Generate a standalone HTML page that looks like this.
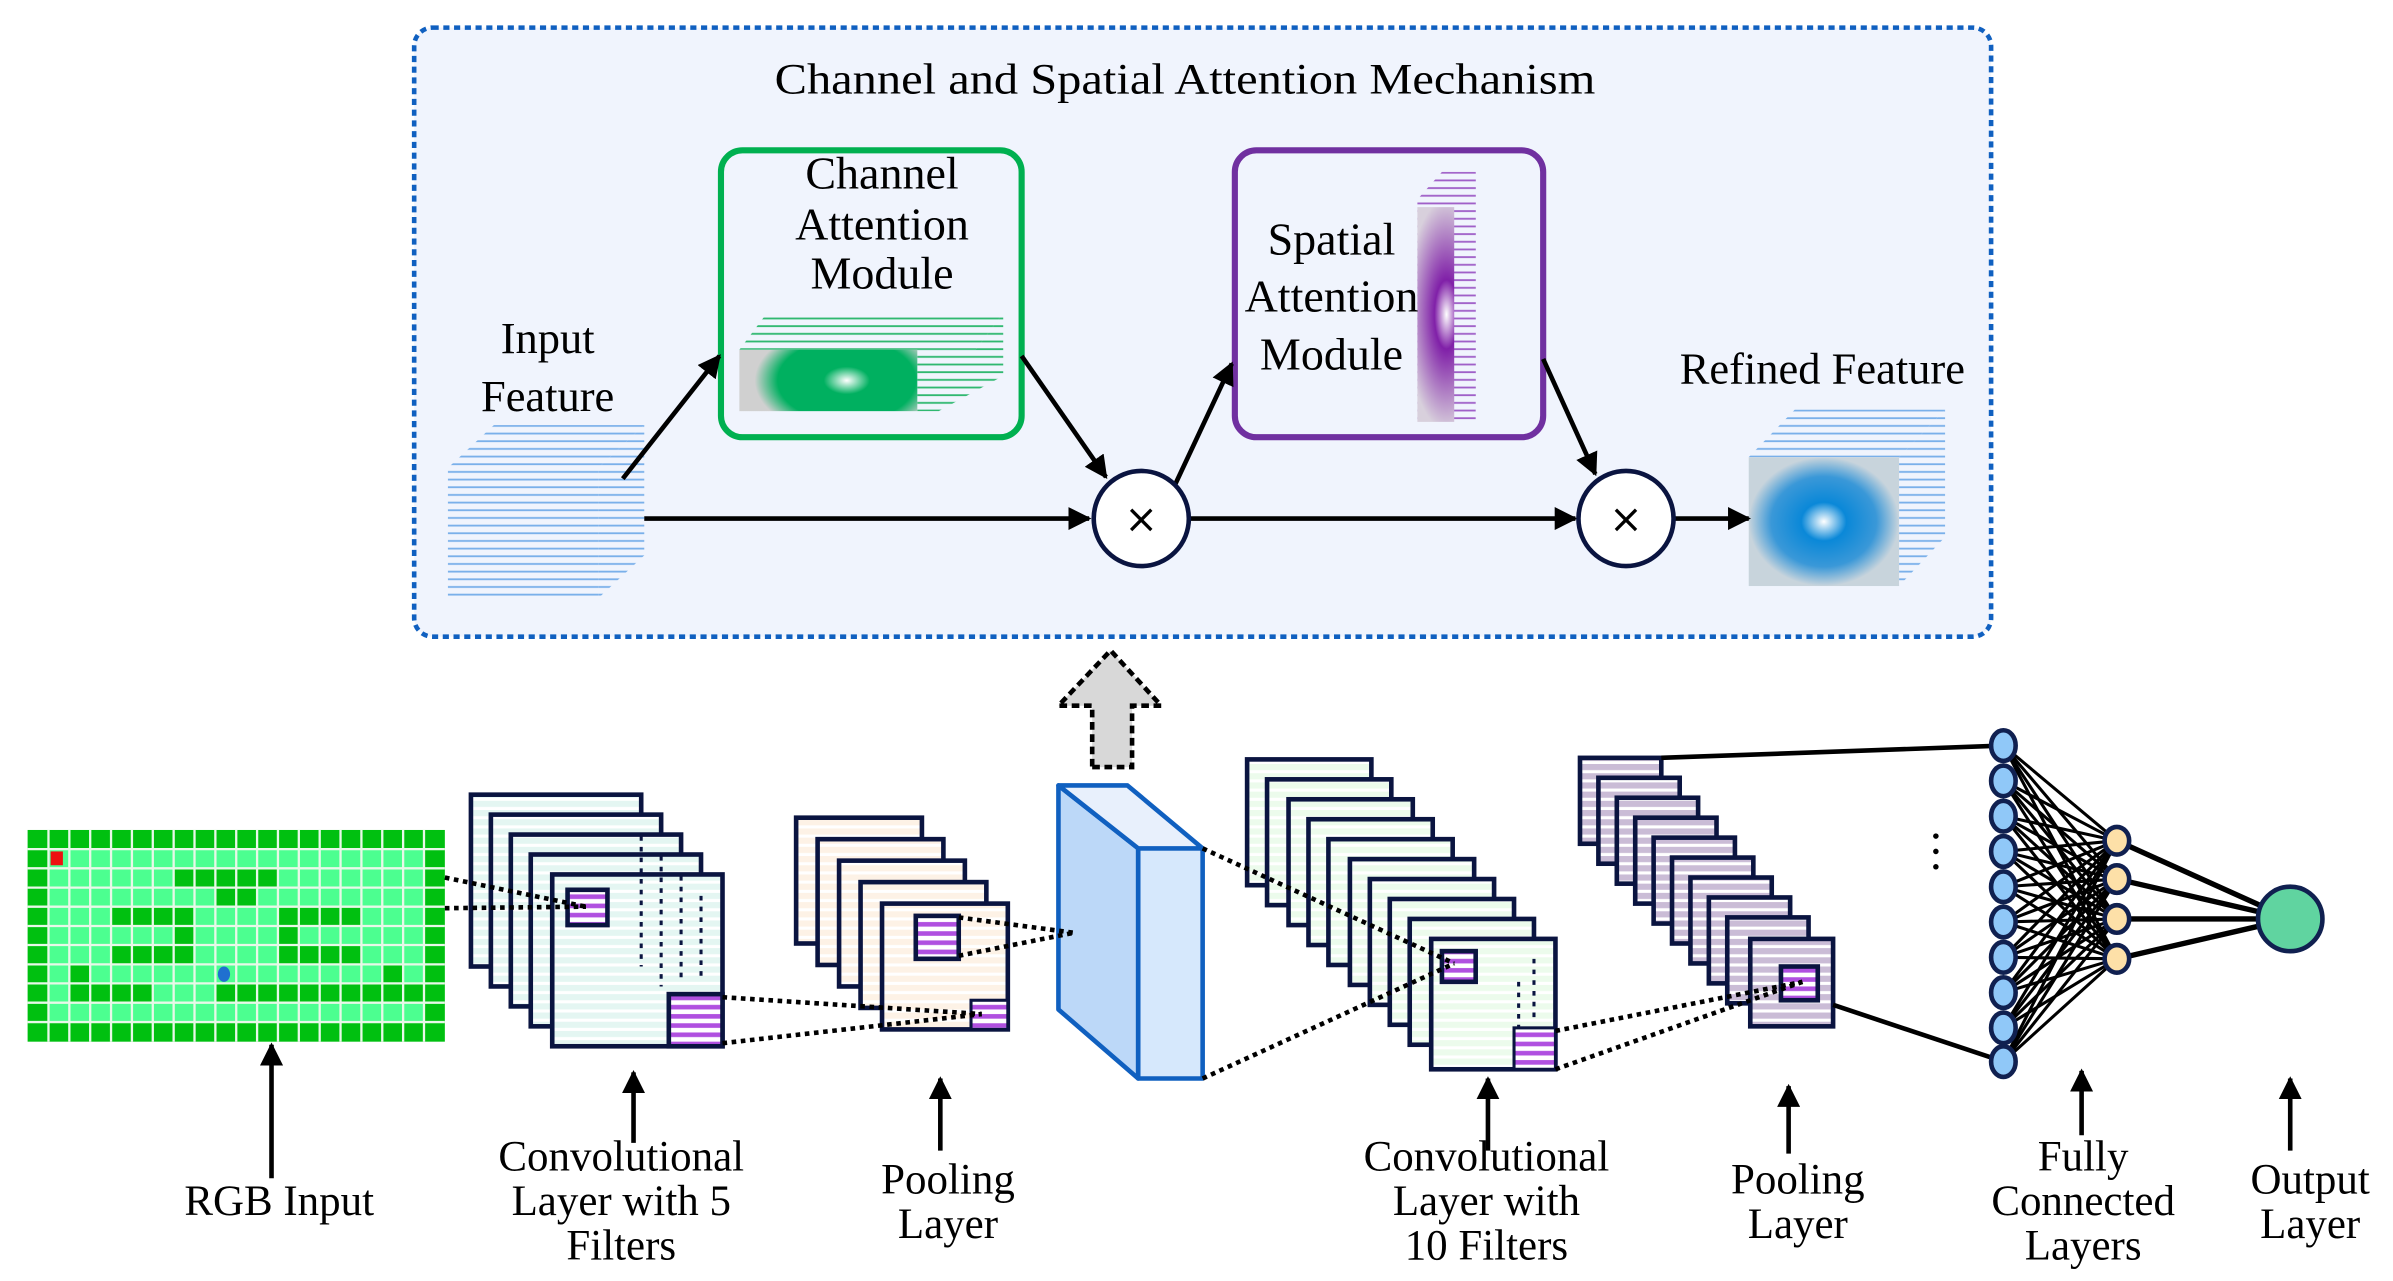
<!DOCTYPE html>
<html><head><meta charset="utf-8"><style>html,body{margin:0;padding:0;background:#fff}svg{display:block}</style></head>
<body>
<svg width="2393" height="1281" viewBox="0 0 1560 835" preserveAspectRatio="none" xmlns="http://www.w3.org/2000/svg" font-family="Liberation Serif, serif">
<defs>
<marker id="ah" viewBox="0 0 10 10" refX="9" refY="5" markerWidth="5" markerHeight="5" orient="auto"><path d="M0,0L10,5L0,10z" fill="#000"/></marker>
<pattern id="cy" width="4" height="6" patternUnits="userSpaceOnUse"><rect width="4" height="6" fill="#e4f6f2"/><rect y="4" width="4" height="2" fill="#fff"/></pattern>
<pattern id="pe" width="4" height="6" patternUnits="userSpaceOnUse"><rect width="4" height="6" fill="#fdf2e6"/><rect y="4" width="4" height="2" fill="#fff"/></pattern>
<pattern id="gr" width="4" height="6" patternUnits="userSpaceOnUse"><rect width="4" height="6" fill="#ecfbec"/><rect y="4" width="4" height="2" fill="#fff"/></pattern>
<pattern id="lv" width="4" height="6" patternUnits="userSpaceOnUse"><rect width="4" height="6" fill="#cabcd6"/><rect y="4" width="4" height="2" fill="#fff"/></pattern>
<pattern id="pu" width="4" height="6" patternUnits="userSpaceOnUse"><rect width="4" height="6" fill="#fff"/><rect y="1" width="4" height="3" fill="#b050e0"/></pattern>
<pattern id="bl" width="4" height="5" patternUnits="userSpaceOnUse"><rect width="4" height="5" fill="#f0f4fd"/><rect y="2" width="4" height="1.2" fill="#7ab0ea"/></pattern>
<pattern id="gl" width="4" height="5" patternUnits="userSpaceOnUse"><rect width="4" height="5" fill="#f0f4fd"/><rect y="2" width="4" height="1.2" fill="#30b870"/></pattern>
<pattern id="pl" width="4" height="5" patternUnits="userSpaceOnUse"><rect width="4" height="5" fill="#f0f4fd"/><rect y="2" width="4" height="1.2" fill="#a060c8"/></pattern>
<radialGradient id="rg" gradientUnits="userSpaceOnUse" cx="552" cy="248" r="60" gradientTransform="translate(552 248) scale(1 0.6) translate(-552 -248)"><stop offset="0" stop-color="#fff"/><stop offset="0.25" stop-color="#00b060"/><stop offset="0.75" stop-color="#00b060"/><stop offset="1" stop-color="#d0d0d0"/></radialGradient>
<radialGradient id="rp" gradientUnits="userSpaceOnUse" cx="943" cy="205" r="75" gradientTransform="translate(943 205) scale(0.35 1) translate(-943 -205)"><stop offset="0" stop-color="#fff"/><stop offset="0.3" stop-color="#8020a8"/><stop offset="1" stop-color="#d8d0dc"/></radialGradient>
<radialGradient id="rb"><stop offset="0" stop-color="#fff"/><stop offset="0.3" stop-color="#0a88d8"/><stop offset="0.7" stop-color="#3a98d8"/><stop offset="1" stop-color="#c8d4dc"/></radialGradient>
</defs>

<rect x="270" y="18" width="1028" height="397" rx="12" fill="#f0f4fd" stroke="#1060c0" stroke-width="3" stroke-dasharray="4,3"/>
<text x="505" y="61" font-size="28" textLength="535" lengthAdjust="spacingAndGlyphs">Channel and Spatial Attention Mechanism</text>

<polygon points="292,305 322,277 420,277 390,305" fill="url(#bl)"/>
<polygon points="390,305 420,277 420,362 390,390" fill="url(#bl)"/>
<rect x="292" y="305" width="98" height="85" fill="url(#bl)"/>
<text x="357" y="230" font-size="29" text-anchor="middle">Input</text>
<text x="357" y="268" font-size="29" text-anchor="middle">Feature</text>

<rect x="470" y="98" width="196" height="187" rx="14" fill="#f0f4fd" stroke="#00b050" stroke-width="4"/>
<text x="575" y="123" font-size="30" text-anchor="middle">Channel</text>
<text x="575" y="156" font-size="30" text-anchor="middle">Attention</text>
<text x="575" y="188" font-size="30" text-anchor="middle">Module</text>
<polygon points="482,228 500,204 654,204 636,228" fill="url(#gl)"/>
<polygon points="598,228 636,228 654,204 654,245 612,268 598,268" fill="url(#gl)"/>
<rect x="482" y="228" width="116" height="40" fill="url(#rg)"/>

<rect x="805" y="98" width="201" height="187" rx="14" fill="#f0f4fd" stroke="#7030a0" stroke-width="4"/>
<polygon points="924,130 940,112 962,112 962,130" fill="url(#pl)"/>
<polygon points="960,130 962,112 962,258 960,275" fill="url(#pl)"/>
<rect x="924" y="130" width="38" height="145" fill="url(#pl)"/>
<rect x="924" y="135" width="24" height="140" fill="url(#rp)"/>
<text x="868" y="166" font-size="30" text-anchor="middle">Spatial</text>
<text x="868" y="203" font-size="30" text-anchor="middle">Attention</text>
<text x="868" y="241" font-size="30" text-anchor="middle">Module</text>

<text x="1188" y="250" font-size="29" text-anchor="middle">Refined Feature</text>
<polygon points="1140,298 1170,267 1268,267 1238,298" fill="url(#bl)"/>
<polygon points="1238,298 1268,267 1268,350 1238,382" fill="url(#bl)"/>
<rect x="1140" y="298" width="98" height="84" fill="url(#rb)"/>

<g stroke="#000" stroke-width="3" fill="none" marker-end="url(#ah)">
<line x1="420" y1="338" x2="710" y2="338"/>
<line x1="776" y1="338" x2="1027" y2="338"/>
<line x1="1092" y1="338" x2="1140" y2="338"/>
<line x1="406" y1="312" x2="469" y2="232"/>
<line x1="666" y1="232" x2="721" y2="311"/>
<line x1="766" y1="316" x2="803" y2="237"/>
<line x1="1006" y1="234" x2="1040" y2="309"/>
</g>
<circle cx="744" cy="338" r="31" fill="#fff" stroke="#0a1440" stroke-width="3"/>
<circle cx="1060" cy="338" r="31" fill="#fff" stroke="#0a1440" stroke-width="3"/>
<text x="744" y="347" font-size="26" text-anchor="middle" font-family="DejaVu Sans, sans-serif">×</text>
<text x="1060" y="347" font-size="26" text-anchor="middle" font-family="DejaVu Sans, sans-serif">×</text>

<polygon points="712,500 738,500 738,460 757,460 724,424 690,460 712,460" fill="#d8d8d8" stroke="#000" stroke-width="3" stroke-dasharray="5,3"/>

<g>
<rect x="18" y="541" width="272" height="138" fill="#00c010"/>
<rect x="31.6" y="553.5" width="244.8" height="112.9" fill="#4cff90"/>
<g fill="#00c010">
<rect x="113" y="566" width="68" height="12.5"/>
<rect x="140" y="578" width="27" height="12.5"/>
<rect x="72" y="591" width="54" height="12.5"/><rect x="181" y="591" width="54" height="12.5"/>
<rect x="113" y="603" width="14" height="12.5"/><rect x="181" y="603" width="14" height="12.5"/>
<rect x="72" y="616" width="54" height="12.5"/><rect x="181" y="616" width="54" height="12.5"/>
<rect x="45" y="628" width="14" height="12.5"/><rect x="249" y="628" width="14" height="12.5"/>
<rect x="45" y="641" width="54" height="12.5"/><rect x="140" y="641" width="136" height="12.5"/>
</g>
<g stroke="#e8f8e8" stroke-width="1.5">
<line x1="31.6" y1="541" x2="31.6" y2="679"/><line x1="45.2" y1="541" x2="45.2" y2="679"/><line x1="58.8" y1="541" x2="58.8" y2="679"/><line x1="72.4" y1="541" x2="72.4" y2="679"/><line x1="86" y1="541" x2="86" y2="679"/><line x1="99.6" y1="541" x2="99.6" y2="679"/><line x1="113.2" y1="541" x2="113.2" y2="679"/><line x1="126.8" y1="541" x2="126.8" y2="679"/><line x1="140.4" y1="541" x2="140.4" y2="679"/><line x1="154" y1="541" x2="154" y2="679"/><line x1="167.6" y1="541" x2="167.6" y2="679"/><line x1="181.2" y1="541" x2="181.2" y2="679"/><line x1="194.8" y1="541" x2="194.8" y2="679"/><line x1="208.4" y1="541" x2="208.4" y2="679"/><line x1="222" y1="541" x2="222" y2="679"/><line x1="235.6" y1="541" x2="235.6" y2="679"/><line x1="249.2" y1="541" x2="249.2" y2="679"/><line x1="262.8" y1="541" x2="262.8" y2="679"/><line x1="276.4" y1="541" x2="276.4" y2="679"/>
<line x1="18" y1="553.5" x2="290" y2="553.5"/><line x1="18" y1="566" x2="290" y2="566"/><line x1="18" y1="578.6" x2="290" y2="578.6"/><line x1="18" y1="591" x2="290" y2="591"/><line x1="18" y1="603.6" x2="290" y2="603.6"/><line x1="18" y1="616" x2="290" y2="616"/><line x1="18" y1="628.6" x2="290" y2="628.6"/><line x1="18" y1="641" x2="290" y2="641"/><line x1="18" y1="653.6" x2="290" y2="653.6"/><line x1="18" y1="666.2" x2="290" y2="666.2"/>
</g>
<rect x="33" y="555" width="8" height="9" fill="#ee1010"/>
<ellipse cx="146" cy="635" rx="4" ry="5" fill="#2070d0"/>
</g>

<g stroke="#0a1440" stroke-width="3" fill="url(#cy)">
<rect x="307" y="518" width="111" height="112"/>
<rect x="320" y="531" width="111" height="112"/>
<rect x="333" y="544" width="111" height="112"/>
<rect x="346" y="557" width="111" height="112"/>
<rect x="360" y="570" width="111" height="112"/>
</g>
<g stroke="#0a1440" stroke-width="2" stroke-dasharray="3,4"><line x1="418" y1="545" x2="418" y2="630"/><line x1="431" y1="558" x2="431" y2="643"/><line x1="444" y1="571" x2="444" y2="640"/><line x1="457" y1="584" x2="457" y2="640"/></g>
<rect x="370" y="580" width="26" height="23" fill="url(#pu)" stroke="#0a1440" stroke-width="3"/>
<rect x="436" y="648" width="35" height="34" fill="url(#pu)" stroke="#0a1440" stroke-width="3"/>

<g stroke="#0a1440" stroke-width="3" fill="url(#pe)">
<rect x="519" y="533" width="82" height="82"/>
<rect x="533" y="547" width="82" height="82"/>
<rect x="547" y="561" width="82" height="82"/>
<rect x="561" y="575" width="82" height="82"/>
<rect x="575" y="589" width="82" height="82"/>
</g>
<rect x="597" y="597" width="28" height="28" fill="url(#pu)" stroke="#0a1440" stroke-width="3"/>
<rect x="633" y="652" width="24" height="19" fill="url(#pu)" stroke="#0a1440" stroke-width="2"/>

<g stroke="#1060c0" stroke-width="3" stroke-linejoin="round">
<polygon points="690,512 742,553 742,703 690,658" fill="#bcd8f8"/>
<polygon points="742,553 784,553 784,703 742,703" fill="#d6e8fc"/>
<polygon points="690,512 735,512 784,553 742,553" fill="#e8f0fc"/>
</g>

<g stroke="#0a1440" stroke-width="3" fill="url(#gr)">
<rect x="813" y="495" width="81" height="82"/>
<rect x="826" y="508" width="81" height="82"/>
<rect x="840" y="521" width="81" height="82"/>
<rect x="853" y="534" width="81" height="82"/>
<rect x="866" y="547" width="81" height="82"/>
<rect x="880" y="560" width="81" height="82"/>
<rect x="893" y="573" width="81" height="82"/>
<rect x="906" y="586" width="81" height="82"/>
<rect x="919" y="599" width="81" height="82"/>
<rect x="933" y="612" width="81" height="85"/>
</g>
<g stroke="#0a1440" stroke-width="2" stroke-dasharray="3,4"><line x1="1000" y1="625" x2="1000" y2="665"/><line x1="990" y1="640" x2="990" y2="670"/></g>
<rect x="940" y="620" width="22" height="20" fill="url(#pu)" stroke="#0a1440" stroke-width="3"/>
<rect x="987" y="670" width="27" height="27" fill="url(#pu)" stroke="#0a1440" stroke-width="2"/>

<g stroke="#0a1440" stroke-width="3" fill="url(#lv)">
<rect x="1030" y="494" width="53" height="56"/>
<rect x="1042" y="507" width="53" height="56"/>
<rect x="1054" y="520" width="53" height="56"/>
<rect x="1066" y="533" width="53" height="56"/>
<rect x="1078" y="546" width="53" height="56"/>
<rect x="1090" y="559" width="53" height="56"/>
<rect x="1102" y="572" width="53" height="56"/>
<rect x="1114" y="585" width="53" height="56"/>
<rect x="1126" y="598" width="53" height="56"/>
<rect x="1141" y="612" width="54" height="57"/>
</g>
<rect x="1161" y="630" width="24" height="22" fill="url(#pu)" stroke="#0a1440" stroke-width="3"/>

<g stroke="#000" stroke-width="3" stroke-dasharray="3,3" fill="none">
<line x1="290" y1="572" x2="382" y2="591"/>
<line x1="290" y1="592" x2="382" y2="591"/>
<line x1="471" y1="650" x2="640" y2="661"/>
<line x1="471" y1="680" x2="640" y2="661"/>
<line x1="625" y1="598" x2="700" y2="608"/>
<line x1="625" y1="623" x2="700" y2="608"/>
<line x1="784" y1="553" x2="948" y2="628"/>
<line x1="784" y1="703" x2="948" y2="628"/>
<line x1="1014" y1="672" x2="1175" y2="640"/>
<line x1="1014" y1="697" x2="1175" y2="640"/>
</g>

<g stroke="#000" stroke-width="3">
<line x1="1083" y1="494" x2="1306" y2="486"/>
<line x1="1195" y1="655" x2="1306" y2="692"/>
</g>
<g stroke="#000" stroke-width="2">
<line x1="1306" y1="486" x2="1380" y2="548"/><line x1="1306" y1="486" x2="1380" y2="573"/><line x1="1306" y1="486" x2="1380" y2="599"/><line x1="1306" y1="486" x2="1380" y2="625"/>
<line x1="1306" y1="509" x2="1380" y2="548"/><line x1="1306" y1="509" x2="1380" y2="573"/><line x1="1306" y1="509" x2="1380" y2="599"/><line x1="1306" y1="509" x2="1380" y2="625"/>
<line x1="1306" y1="532" x2="1380" y2="548"/><line x1="1306" y1="532" x2="1380" y2="573"/><line x1="1306" y1="532" x2="1380" y2="599"/><line x1="1306" y1="532" x2="1380" y2="625"/>
<line x1="1306" y1="555" x2="1380" y2="548"/><line x1="1306" y1="555" x2="1380" y2="573"/><line x1="1306" y1="555" x2="1380" y2="599"/><line x1="1306" y1="555" x2="1380" y2="625"/>
<line x1="1306" y1="578" x2="1380" y2="548"/><line x1="1306" y1="578" x2="1380" y2="573"/><line x1="1306" y1="578" x2="1380" y2="599"/><line x1="1306" y1="578" x2="1380" y2="625"/>
<line x1="1306" y1="601" x2="1380" y2="548"/><line x1="1306" y1="601" x2="1380" y2="573"/><line x1="1306" y1="601" x2="1380" y2="599"/><line x1="1306" y1="601" x2="1380" y2="625"/>
<line x1="1306" y1="624" x2="1380" y2="548"/><line x1="1306" y1="624" x2="1380" y2="573"/><line x1="1306" y1="624" x2="1380" y2="599"/><line x1="1306" y1="624" x2="1380" y2="625"/>
<line x1="1306" y1="647" x2="1380" y2="548"/><line x1="1306" y1="647" x2="1380" y2="573"/><line x1="1306" y1="647" x2="1380" y2="599"/><line x1="1306" y1="647" x2="1380" y2="625"/>
<line x1="1306" y1="670" x2="1380" y2="548"/><line x1="1306" y1="670" x2="1380" y2="573"/><line x1="1306" y1="670" x2="1380" y2="599"/><line x1="1306" y1="670" x2="1380" y2="625"/>
<line x1="1306" y1="692" x2="1380" y2="548"/><line x1="1306" y1="692" x2="1380" y2="573"/><line x1="1306" y1="692" x2="1380" y2="599"/><line x1="1306" y1="692" x2="1380" y2="625"/>
</g>
<g stroke="#000" stroke-width="3.5">
<line x1="1380" y1="548" x2="1493" y2="599"/><line x1="1380" y1="573" x2="1493" y2="599"/><line x1="1380" y1="599" x2="1493" y2="599"/><line x1="1380" y1="625" x2="1493" y2="599"/>
</g>
<g fill="#90c8f8" stroke="#102050" stroke-width="3">
<ellipse cx="1306" cy="486" rx="8" ry="10"/><ellipse cx="1306" cy="509" rx="8" ry="10"/><ellipse cx="1306" cy="532" rx="8" ry="10"/><ellipse cx="1306" cy="555" rx="8" ry="10"/><ellipse cx="1306" cy="578" rx="8" ry="10"/><ellipse cx="1306" cy="601" rx="8" ry="10"/><ellipse cx="1306" cy="624" rx="8" ry="10"/><ellipse cx="1306" cy="647" rx="8" ry="10"/><ellipse cx="1306" cy="670" rx="8" ry="10"/><ellipse cx="1306" cy="692" rx="8" ry="10"/>
</g>
<g fill="#fde0a8" stroke="#102050" stroke-width="3">
<ellipse cx="1380" cy="548" rx="8" ry="9"/><ellipse cx="1380" cy="573" rx="8" ry="9"/><ellipse cx="1380" cy="599" rx="8" ry="9"/><ellipse cx="1380" cy="625" rx="8" ry="9"/>
</g>
<circle cx="1493" cy="599" r="21" fill="#60d4a0" stroke="#102050" stroke-width="3"/>
<g fill="#000"><circle cx="1262" cy="545" r="1.8"/><circle cx="1262" cy="555" r="1.8"/><circle cx="1262" cy="565" r="1.8"/></g>

<g stroke="#000" stroke-width="3" marker-end="url(#ah)">
<line x1="177" y1="768" x2="177" y2="681"/>
<line x1="413" y1="745" x2="413" y2="699"/>
<line x1="613" y1="750" x2="613" y2="703"/>
<line x1="970" y1="750" x2="970" y2="703"/>
<line x1="1166" y1="752" x2="1166" y2="708"/>
<line x1="1357" y1="740" x2="1357" y2="698"/>
<line x1="1493" y1="750" x2="1493" y2="703"/>
</g>

<g font-size="28" text-anchor="middle">
<text x="182" y="792">RGB Input</text>
<text x="405" y="763">Convolutional</text><text x="405" y="792">Layer with 5</text><text x="405" y="821">Filters</text>
<text x="618" y="778">Pooling</text><text x="618" y="807">Layer</text>
<text x="969" y="763">Convolutional</text><text x="969" y="792">Layer with</text><text x="969" y="821">10 Filters</text>
<text x="1172" y="778">Pooling</text><text x="1172" y="807">Layer</text>
<text x="1358" y="763">Fully</text><text x="1358" y="792">Connected</text><text x="1358" y="821">Layers</text>
<text x="1506" y="778">Output</text><text x="1506" y="807">Layer</text>
</g>
</svg>
</body></html>
